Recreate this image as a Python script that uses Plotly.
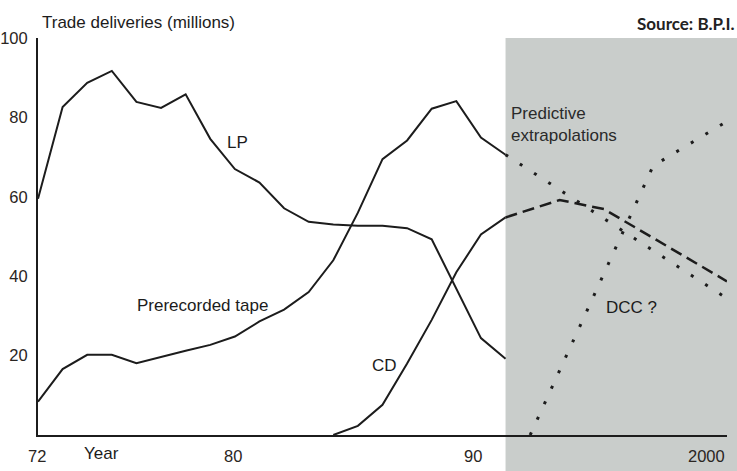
import plotly.graph_objects as go

# ---------------- data ----------------
years_lp = list(range(72, 92))
lp_values = [59.5, 82.6, 88.7, 91.7, 83.9, 82.4, 85.8, 74.6, 67.0, 63.6,
             57.1, 53.7, 53.0, 52.7, 52.7, 52.1, 49.3, 37.0, 24.4, 19.2]

years_tape = list(range(72, 92))
tape_values = [8.4, 16.6, 20.2, 20.2, 18.1, 19.7, 21.2, 22.7, 24.8, 28.6,
               31.6, 36.0, 44.0, 56.0, 69.5, 74.2, 82.2, 84.1, 74.9, 70.6]

years_cd = list(range(84, 92))
cd_values = [0.0, 2.3, 7.6, 18.0, 29.0, 41.0, 50.5, 54.8]

# predictive extrapolations
years_tape_pred = [91, 100]
tape_pred_values = [70.6, 34.4]

years_cd_pred = [91, 93.2, 95, 100]
cd_pred_values = [54.8, 59.2, 56.9, 38.7]

years_dcc_pred = [92, 97, 100]
dcc_pred_values = [0.0, 67.8, 79.0]

y_tick_vals = [20, 40, 60, 80, 100]
x_tick_vals = [72, 80, 90, 100]
x_tick_text = ["72", "80", "90", "2000"]

shade_start_year = 91
x_range = [72, 100]
y_range = [0, 100]

# ---------------- styling ----------------
FONT = "Liberation Sans, Arial, Helvetica, sans-serif"
INK = "#1c1c1c"
SHADE = "#c9cdcb"
x_label_shift = {72: -1, 80: -2, 90: -8, 100: 0}

fig = go.Figure()

solid = dict(color=INK, width=2)
fig.add_trace(go.Scatter(x=years_lp, y=lp_values, mode="lines", line=solid,
                         showlegend=False, hoverinfo="skip"))
fig.add_trace(go.Scatter(x=years_tape, y=tape_values, mode="lines", line=solid,
                         showlegend=False, hoverinfo="skip"))
fig.add_trace(go.Scatter(x=years_cd, y=cd_values, mode="lines", line=solid,
                         showlegend=False, hoverinfo="skip"))

dotted = dict(color=INK, width=3, dash="3px,14px")
fig.add_trace(go.Scatter(x=years_tape_pred, y=tape_pred_values, mode="lines",
                         line=dotted, showlegend=False, hoverinfo="skip"))
fig.add_trace(go.Scatter(x=years_dcc_pred, y=dcc_pred_values, mode="lines",
                         line=dotted, showlegend=False, hoverinfo="skip"))
fig.add_trace(go.Scatter(x=years_cd_pred, y=cd_pred_values, mode="lines",
                         line=dict(color=INK, width=2.5, dash="12px,6px"),
                         showlegend=False, hoverinfo="skip"))

# shaded prediction region (extends to the figure edges)
shade_x0 = (shade_start_year - x_range[0]) / (x_range[1] - x_range[0])
fig.add_shape(type="rect", xref="paper", yref="paper",
              x0=shade_x0, x1=1.2, y0=-0.3, y1=1.0,
              fillcolor=SHADE, line=dict(width=0), layer="below")

# x tick labels
for v, t in zip(x_tick_vals, x_tick_text):
    fig.add_annotation(x=v, y=0, xref="x", yref="paper", text=t,
                       showarrow=False, yanchor="middle", yshift=-21,
                       xshift=x_label_shift.get(v, 0),
                       xanchor="right" if v == x_range[1] else "center",
                       font=dict(family=FONT, size=16.5, color="#2a2522"))

labels = [
    dict(x=74.6, y=0, yref="paper", text="Year", yshift=-18),
    dict(x=80.1, y=73.8, text="LP"),
    dict(x=78.7, y=32.7, text="Prerecorded tape"),
    dict(x=86.1, y=17.6, text="CD"),
    dict(x=96.1, y=32.2, text="DCC ?"),
]
for lab in labels:
    fig.add_annotation(xref="x", yref=lab.get("yref", "y"), x=lab["x"], y=lab["y"],
                       text=lab["text"], showarrow=False, yanchor="middle",
                       yshift=lab.get("yshift", 0),
                       font=dict(family=FONT, size=17, color=INK))

fig.add_annotation(xref="x", yref="y", x=91.15, y=78.1,
                   text="Predictive<br>extrapolations", showarrow=False,
                   xanchor="left", align="left", yanchor="middle",
                   font=dict(family=FONT, size=17, color="#2a2a2a"))

fig.add_annotation(xref="paper", yref="paper", x=0.003, y=1.0,
                   text="Trade deliveries (millions)", showarrow=False,
                   xanchor="left", yanchor="bottom", yshift=4,
                   font=dict(family=FONT, size=17, color=INK))

fig.add_annotation(xref="paper", yref="paper", x=1.0145, y=1.0,
                   text="<b>Source: B.P.I.</b>", showarrow=False,
                   xanchor="right", yanchor="bottom", yshift=2,
                   font=dict(family="Lato, Open Sans, sans-serif", size=17, color="#222"))

fig.update_layout(
    width=737, height=471,
    margin=dict(l=38, r=10, t=38, b=36, pad=0, autoexpand=False),
    paper_bgcolor="white", plot_bgcolor="rgba(0,0,0,0)",
    xaxis=dict(range=x_range, showline=True, linecolor=INK, linewidth=2,
               showgrid=False, zeroline=False, showticklabels=False, ticks="",
               automargin=False),
    yaxis=dict(range=y_range, showline=True, linecolor=INK, linewidth=2,
               showgrid=False, zeroline=False, tickvals=y_tick_vals, ticks="",
               ticklabelstandoff=5, automargin=False,
               tickfont=dict(family=FONT, size=16.5, color="#2a2522")),
)

fig.write_html("out.html", config={"displayModeBar": False},
               post_script="document.body.style.margin='0';document.body.style.overflow='hidden';")
